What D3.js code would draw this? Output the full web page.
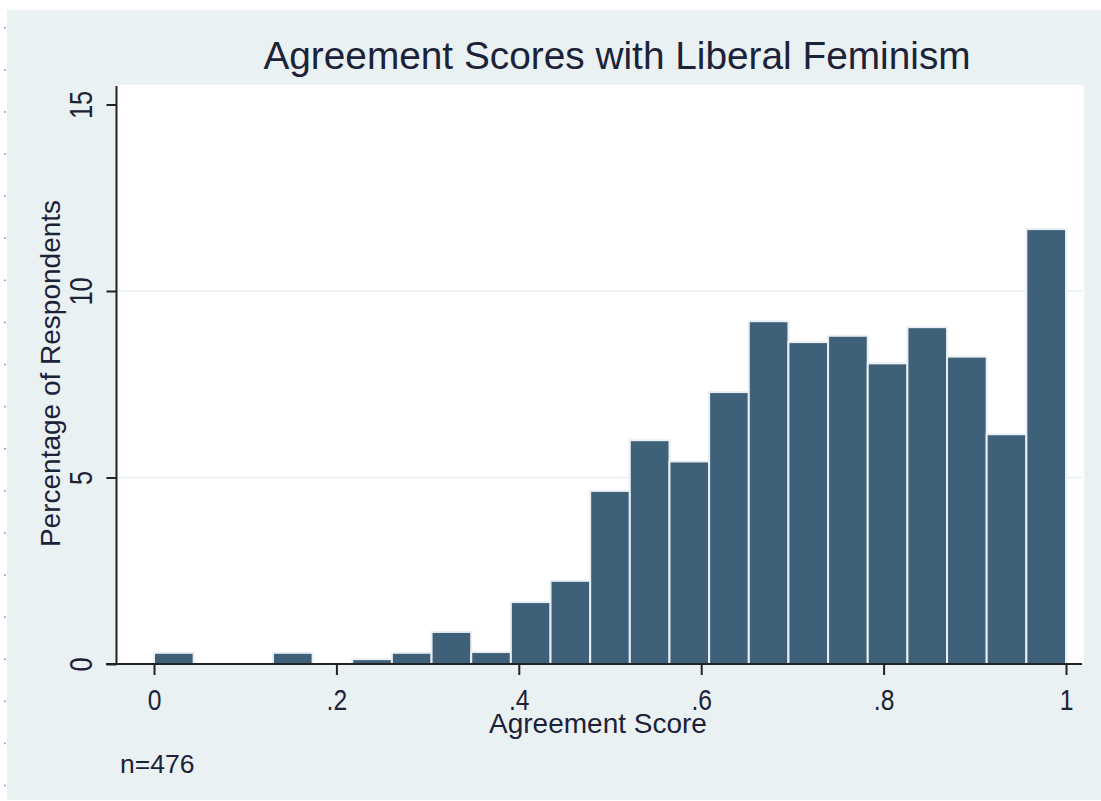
<!DOCTYPE html>
<html>
<head>
<meta charset="utf-8">
<script src="https://cdn.jsdelivr.net/npm/d3@7"></script>
<style>
  html, body { margin: 0; padding: 0; background: #ffffff; }
  svg { display: block; }
  text { font-family: "Liberation Sans", Arial, sans-serif; }
</style>
</head>
<body>
<svg id="chart" width="1101" height="801"></svg>
<script>
// ---- data ----
const title = "Agreement Scores with Liberal Feminism";
const xTitle = "Agreement Score";
const yTitle = "Percentage of Respondents";
const note = "n=476";
const binCount = 23;
const binStarts = d3.range(binCount).map(i => i / binCount);
const percents = [0.30, 0, 0, 0.30, 0, 0.13, 0.30, 0.86, 0.32, 1.66, 2.23, 4.64, 6.00, 5.43, 7.29, 9.19, 8.63, 8.80, 8.06, 9.03, 8.24, 6.16, 11.66];
const xTickValues = [0, 0.2, 0.4, 0.6, 0.8, 1];
const xTickLabels = ["0", ".2", ".4", ".6", ".8", "1"];
const yTickValues = [0, 5, 10, 15];
const yGridValues = [5, 10];

// ---- layout ----
const svg = d3.select("#chart");
const plot = { left: 116.5, right: 1084, top: 85, bottom: 664 };
const x = d3.scaleLinear().domain([0, 1]).range([154, 1066]);
const y = d3.scaleLinear().domain([0, 15]).range([664, 104.5]);
const ink = "#1c2238";

// outer background
svg.append("rect").attr("x", 7).attr("y", 10).attr("width", 1094).attr("height", 790)
  .attr("fill", "#eaf1f3");
// scan dots on left edge
svg.append("g").selectAll("rect").data(d3.range(27, 800, 42.1)).join("rect")
  .attr("x", 4).attr("y", d => d).attr("width", 2).attr("height", 1.5).attr("fill", "#9aa3a8");

// plot region
svg.append("rect").attr("x", plot.left).attr("y", plot.top)
  .attr("width", plot.right - plot.left).attr("height", plot.bottom - plot.top)
  .attr("fill", "#ffffff");

// gridlines
svg.append("g").selectAll("line").data(yGridValues).join("line")
  .attr("x1", plot.left).attr("x2", 1082)
  .attr("y1", d => y(d)).attr("y2", d => y(d))
  .attr("stroke", "#e6eff2").attr("stroke-width", 1.5);

// bars
const bars = binStarts.map((s, i) => ({ x0: s, x1: s + 1 / binCount, v: percents[i] }))
  .filter(d => d.v > 0);
svg.append("g").selectAll("rect").data(bars).join("rect")
  .attr("x", d => x(d.x0))
  .attr("width", d => x(d.x1) - x(d.x0))
  .attr("y", d => y(d.v))
  .attr("height", d => y(0) - y(d.v))
  .attr("fill", "#3e6179")
  .attr("stroke", "#e9eff4")
  .attr("stroke-width", 2);

// axes lines
svg.append("line").attr("x1", plot.left).attr("x2", plot.left)
  .attr("y1", 86).attr("y2", 665).attr("stroke", "#222").attr("stroke-width", 2);
svg.append("line").attr("x1", 106).attr("x2", 1082)
  .attr("y1", 664).attr("y2", 664).attr("stroke", "#222").attr("stroke-width", 2);

// y axis
const yAxis = d3.axisLeft(y).tickValues(yTickValues).tickSize(10).tickSizeOuter(0)
  .tickFormat(d3.format("d"));
const gy = svg.append("g").attr("transform", `translate(${plot.left},0)`).call(yAxis);
gy.select(".domain").remove();
gy.selectAll(".tick line").attr("stroke", "#222").attr("stroke-width", 2);
gy.selectAll(".tick text")
  .attr("x", null).attr("dy", null)
  .attr("text-anchor", "middle")
  .attr("transform", "translate(-24.5,0) rotate(-90) scale(0.82,1)")
  .attr("fill", ink).attr("font-size", 31)
  .style("font-family", "'Liberation Sans', Arial, sans-serif");

// x axis
const xAxis = d3.axisBottom(x).tickValues(xTickValues).tickSize(11).tickSizeOuter(0)
  .tickFormat((d, i) => xTickLabels[i]);
const gx = svg.append("g").attr("transform", `translate(0,${plot.bottom})`).call(xAxis);
gx.select(".domain").remove();
gx.selectAll(".tick line").attr("stroke", "#222").attr("stroke-width", 2);
gx.selectAll(".tick text")
  .attr("y", null).attr("dy", null)
  .attr("text-anchor", "middle")
  .attr("transform", "translate(0,46) scale(0.85,1)")
  .attr("fill", ink).attr("font-size", 29)
  .style("font-family", "'Liberation Sans', Arial, sans-serif");

// titles
svg.append("text").attr("x", 617).attr("y", 68.5).attr("text-anchor", "middle")
  .attr("font-size", 38.8).attr("fill", ink).text(title);
svg.append("text").attr("x", 598).attr("y", 733).attr("text-anchor", "middle")
  .attr("font-size", 28).attr("fill", ink).text(xTitle);
svg.append("text").attr("transform", "translate(60,373.5) rotate(-90)")
  .attr("text-anchor", "middle").attr("font-size", 28).attr("fill", ink).text(yTitle);
svg.append("text").attr("x", 120).attr("y", 773).attr("font-size", 26.5)
  .attr("fill", ink).text(note);
</script>
</body>
</html>
